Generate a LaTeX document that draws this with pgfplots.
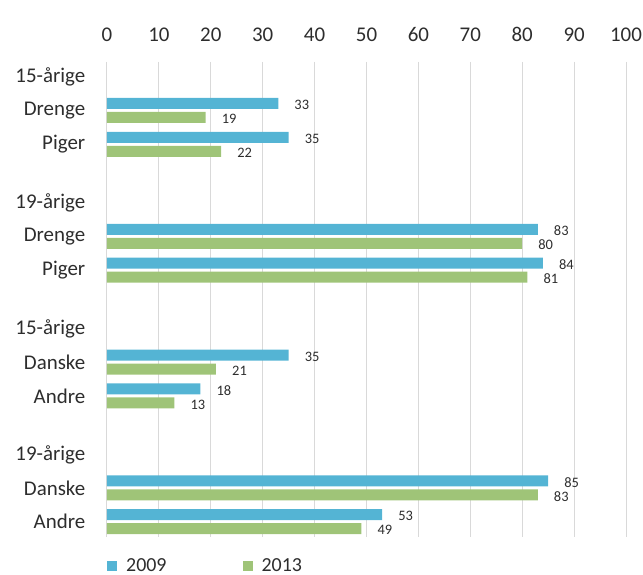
\documentclass[border=0pt]{standalone}
\usepackage{fontspec}
\setmainfont{Carlito}
\usepackage{pgfplots}
\usepackage{pgfplotstable}
\pgfplotsset{compat=1.18}

\definecolor{c09}{RGB}{84,180,212}
\definecolor{c13}{RGB}{159,196,120}
\definecolor{txt}{RGB}{45,45,45}
\definecolor{grd}{RGB}{217,217,217}

% y = row position (px from top), a = 2009, b = 2013
\pgfplotstableread{
y a b
110.5 33 19
144.3 35 22
236.3 83 80
270.1 84 81
362.1 35 21
395.9 18 13
487.9 85 83
521.7 53 49
}\data

\begin{document}
\begin{tikzpicture}
\path[use as bounding box] (-107bp,-38bp) rectangle (536bp,537bp);
\begin{axis}[
    at={(0,0)}, anchor=south west,
    width=519bp, height=475bp, scale only axis,
    xmin=0, xmax=100,
    ymin=62, ymax=537,
    y dir=reverse,
    xbar, bar width=11,
    axis line style={draw=none},
    tick style={draw=none},
    xmajorgrids, grid style={grd, line width=1bp},
    xtick={0,10,...,100},
    xticklabel pos=upper,
    xticklabel style={anchor=base, yshift=20bp},
    ytick={77,110.5,144.3,202.8,236.3,270.1,328.6,362.1,395.9,454.4,487.9,521.7},
    yticklabels={15-årige,Drenge,Piger,19-årige,Drenge,Piger,15-årige,Danske,Andre,19-årige,Danske,Andre},
    yticklabel style={anchor=east, xshift=-14bp},
    ticklabel style={font=\fontsize{21}{25}\selectfont, text=txt},
    /pgf/number format/assume math mode=true,
    nodes near coords,
    point meta=x,
    every node near coord/.append style={font=\fontsize{14.5}{17}\selectfont, text=txt,
        anchor=west, inner sep=0pt, xshift=16bp, yshift=-1.5bp},
    legend columns=2,
    legend image code/.code={\fill[#1] (0bp,-5bp) rectangle (10bp,5bp);},
    legend style={at={(0,0)}, anchor=west, yshift=-29bp, draw=none, fill=none,
        inner sep=0pt, font=\fontsize{20}{22}\selectfont, text=txt,
        /tikz/every odd column/.append style={column sep=7bp},
        /tikz/every even column/.append style={column sep=74bp}},
]
\addplot[fill=c09, draw=none, bar shift=-7] table[x=a, y=y] {\data};
\addplot[fill=c13, draw=none, bar shift=7] table[x=b, y=y] {\data};
\addlegendentry{2009}
\addlegendentry{2013}
\end{axis}
\end{tikzpicture}
\end{document}
